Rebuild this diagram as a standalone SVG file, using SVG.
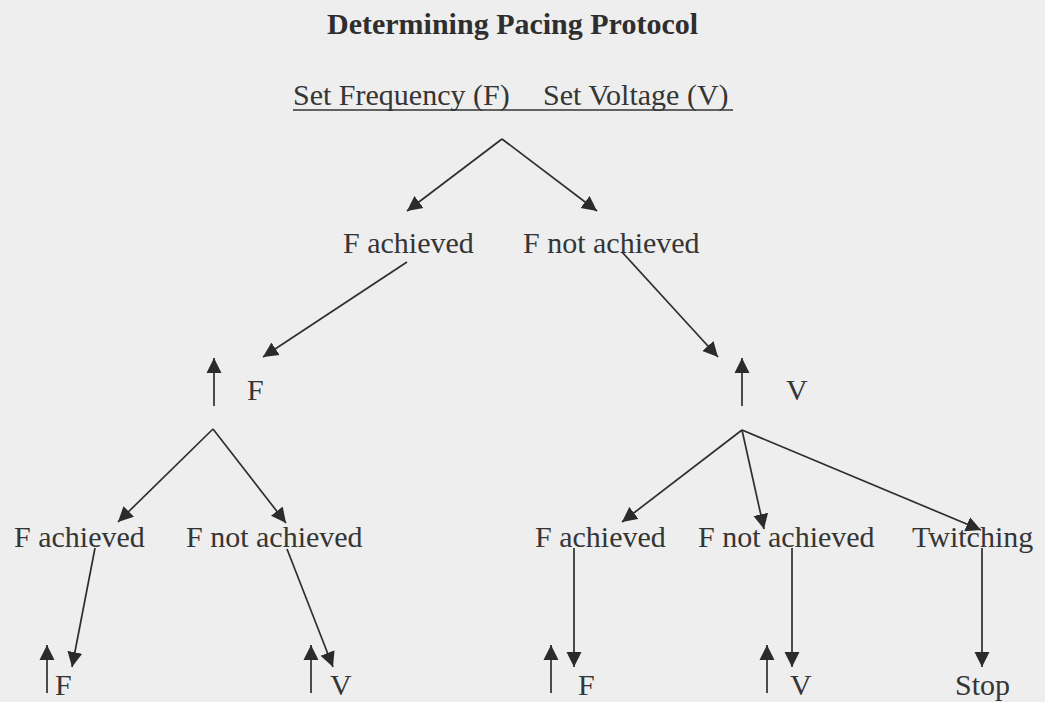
<svg xmlns="http://www.w3.org/2000/svg" width="1045" height="702" viewBox="0 0 1045 702">
<defs>
<marker id="ah" markerUnits="userSpaceOnUse" markerWidth="16" markerHeight="16" viewBox="0 0 16 15" refX="15" refY="7.5" orient="auto">
<path d="M0,0 L15,7.5 L0,15 z" fill="#2b2b2b"/>
</marker>
<style>
text{font-family:"Liberation Serif","Times New Roman",serif;font-size:30px;fill:#353535}
.title{font-weight:bold;fill:#2e2e2e}
.c line{stroke:#2e2e2e;stroke-width:1.7;fill:none;marker-end:url(#ah)}
</style>
</defs>
<rect width="1045" height="702" fill="#eeeeee"/>
<g id="title"><text class="title" x="327" y="34">Determining Pacing Protocol</text></g>
<g id="root">
<text x="293" y="105">Set Frequency (F)</text>
<text x="543" y="105">Set Voltage (V)</text>
<line x1="293" y1="110" x2="733" y2="110" stroke="#333" stroke-width="1.6"/>
</g>
<g id="n-fa1"><text x="343" y="253">F achieved</text></g>
<g id="n-fna1"><text x="523" y="253">F not achieved</text></g>
<g id="n-f1"><text x="247" y="400">F</text></g>
<g id="n-v1"><text x="786" y="400">V</text></g>
<g id="n-fa2"><text x="14" y="547">F achieved</text></g>
<g id="n-fna2"><text x="186" y="547">F not achieved</text></g>
<g id="n-fa3"><text x="535" y="547">F achieved</text></g>
<g id="n-fna3"><text x="698" y="547">F not achieved</text></g>
<g id="n-tw"><text x="912" y="547">Twitching</text></g>
<g id="n-f2"><text x="55" y="695">F</text></g>
<g id="n-v2"><text x="330" y="695">V</text></g>
<g id="n-f3"><text x="578" y="695">F</text></g>
<g id="n-v3"><text x="790" y="695">V</text></g>
<g id="n-stop"><text x="955" y="695">Stop</text></g>
<g class="c" id="connectors">
<line x1="502" y1="139" x2="407" y2="211"/>
<line x1="502" y1="139" x2="597" y2="211"/>
<line x1="407" y1="262" x2="263" y2="357"/>
<line x1="622" y1="252" x2="718" y2="357"/>
<line x1="214" y1="406" x2="214" y2="358"/>
<line x1="742" y1="406" x2="742" y2="358"/>
<line x1="213" y1="429" x2="118" y2="522"/>
<line x1="213" y1="429" x2="286" y2="523"/>
<line x1="742" y1="430" x2="622" y2="522"/>
<line x1="742" y1="430" x2="764" y2="529"/>
<line x1="742" y1="430" x2="981" y2="530"/>
<line x1="95" y1="548" x2="72" y2="667"/>
<line x1="287" y1="549" x2="333" y2="667"/>
<line x1="574" y1="548" x2="574" y2="667"/>
<line x1="792" y1="548" x2="792" y2="667"/>
<line x1="982" y1="548" x2="982" y2="667"/>
<line x1="47" y1="693" x2="47" y2="645"/>
<line x1="311" y1="693" x2="311" y2="645"/>
<line x1="551" y1="693" x2="551" y2="645"/>
<line x1="767" y1="693" x2="767" y2="645"/>
</g>
</svg>
